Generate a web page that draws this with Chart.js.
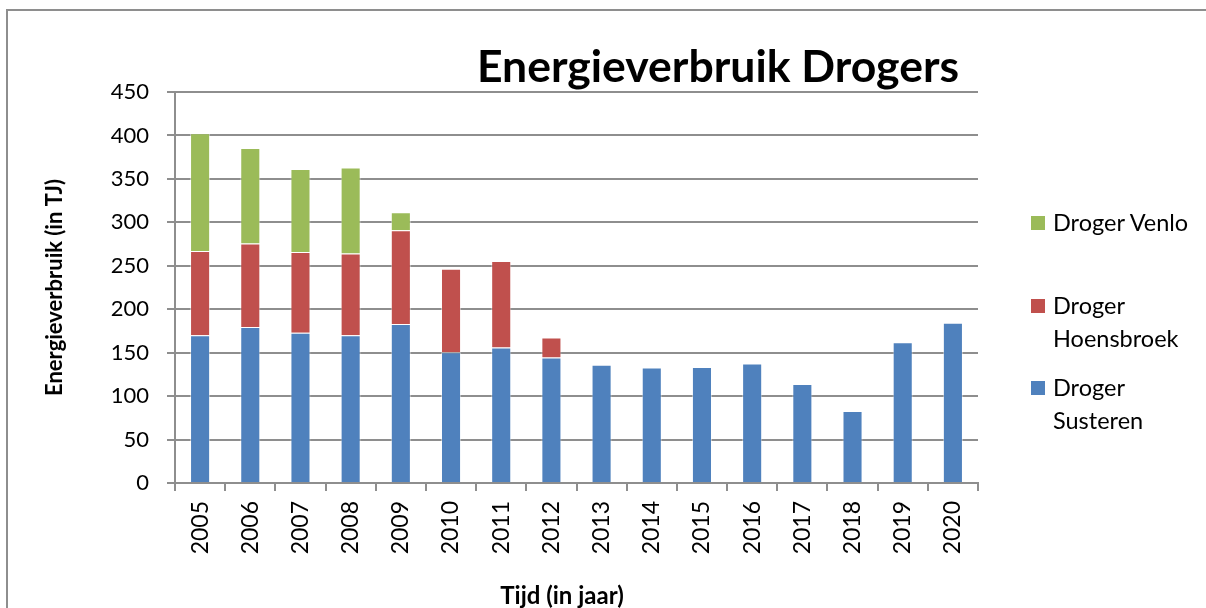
<!DOCTYPE html>
<html>
<head>
<meta charset="utf-8">
<script src="https://cdn.jsdelivr.net/npm/chart.js@4.4.1/dist/chart.umd.min.js"></script>
<style>
  html, body { margin: 0; padding: 0; background: #fff; overflow: hidden; }
  #wrap { position: relative; width: 1206px; height: 608px; overflow: hidden; }
  #frame { position: absolute; left: 6px; top: 9px; width: 1300px; height: 700px;
           border-left: 2px solid #8e8e8e; border-top: 2px solid #8e8e8e; box-sizing: border-box; }
  canvas { position: absolute; left: 0; top: 0; }
  #legend { position: absolute; left: 1031px; top: 0; font-family: Lato, "Noto Sans", sans-serif;
            font-size: 23.5px; color: #000; }
  .item { position: absolute; left: 0; width: 175px; }
  .sw { position: absolute; left: 0; width: 14px; height: 14px; top: 10px; }
  .tx { position: absolute; left: 22px; width: 160px; line-height: 33px; white-space: normal; }
</style>
</head>
<body>
<div id="wrap">
  <div id="frame"></div>
  <canvas id="c" width="1206" height="608"></canvas>
  <div id="legend"></div>
</div>
<script>
const years = ['2005','2006','2007','2008','2009','2010','2011','2012','2013','2014','2015','2016','2017','2018','2019','2020'];
const susteren   = [170, 179.5, 173, 170, 183, 150.5, 156, 144.5, 136, 133, 133.5, 137.5, 114, 83, 162, 184.5];
const hoensbroek = [97, 96, 93, 94, 108, 96, 99.5, 23, null, null, null, null, null, null, null, null];
const venlo      = [135.5, 110, 95.5, 99, 20.5, null, null, null, null, null, null, null, null, null, null, null];
const seriesNames = ['Droger Susteren', 'Droger Hoensbroek', 'Droger Venlo'];
const seriesColors = ['#4F81BD', '#C0504D', '#9BBB59'];
const yTicks = [0, 50, 100, 150, 200, 250, 300, 350, 400, 450];
const chartTitle = 'Energieverbruik Drogers';
const yTitle = 'Energieverbruik (in TJ)';
const xTitle = 'Tijd (in jaar)';

const FONT = 'Lato, "Noto Sans", sans-serif';
const GRID = '#8e8e8e';

const titlePlugin = {
  id: 'fixedTitles',
  afterDraw(chart) {
    const ctx = chart.ctx;
    ctx.save();
    ctx.fillStyle = '#000';
    ctx.textAlign = 'center';
    ctx.textBaseline = 'alphabetic';
    ctx.font = 'bold 44.5px ' + FONT;
    ctx.fillText(chartTitle, 718, 82);
    ctx.font = 'bold 24px ' + FONT;
    ctx.textBaseline = 'alphabetic';
    ctx.fillText(xTitle, 562, 604);
    ctx.restore();
  }
};

const dataSets = [susteren, hoensbroek, venlo].map((d, i) => ({
  label: seriesNames[i],
  data: d,
  backgroundColor: seriesColors[i],
  borderColor: 'rgba(255,255,255,0.45)',
  borderWidth: 1,
  barPercentage: 0.4,
  categoryPercentage: 1.0,
  stack: 's'
}));

new Chart(document.getElementById('c'), {
  type: 'bar',
  data: { labels: years, datasets: dataSets },
  options: {
    responsive: false,
    animation: false,
    devicePixelRatio: 1,
    layout: { padding: { left: 0, right: 228, top: 92, bottom: 0 } },
    plugins: { legend: { display: false }, title: { display: false }, tooltip: { enabled: false } },
    scales: {
      x: {
        stacked: true,
        offset: true,
        grid: { display: true, drawOnChartArea: false, drawTicks: true, tickLength: 8, color: GRID, lineWidth: 2, offset: true },
        border: { display: true, color: GRID, width: 2 },
        ticks: { color: '#000', font: { family: FONT, size: 23 }, minRotation: 90, maxRotation: 90, padding: 10, autoSkip: false },
        afterFit(s) { s.height = 125; }
      },
      y: {
        stacked: true,
        min: 0, max: 450,
        afterBuildTicks(s) { s.ticks = yTicks.map(v => ({ value: v })); },
        grid: { color: GRID, lineWidth: 2, tickLength: 8, drawTicks: true },
        border: { display: true, color: GRID, width: 2 },
        ticks: { color: '#000', font: { family: FONT, size: 22 }, padding: 18 },
        title: { display: true, text: yTitle, color: '#000', font: { family: FONT, size: 22, weight: 'bold' }, padding: { top: 42, bottom: 0 } },
        afterFit(s) { s.width = 175; }
      }
    }
  },
  plugins: [titlePlugin]
});

// HTML legend built from the dataset names/colours (reverse order, as in the reference)
const legend = document.getElementById('legend');
const order = [2, 1, 0];
order.forEach((idx, i) => {
  const it = document.createElement('div');
  it.className = 'item';
  it.style.top = (206 + i * 82.5) + 'px';
  const sw = document.createElement('div');
  sw.className = 'sw';
  sw.style.background = seriesColors[idx];
  const tx = document.createElement('div');
  tx.className = 'tx';
  tx.textContent = seriesNames[idx];
  it.appendChild(sw); it.appendChild(tx);
  legend.appendChild(it);
});
</script>
</body>
</html>
